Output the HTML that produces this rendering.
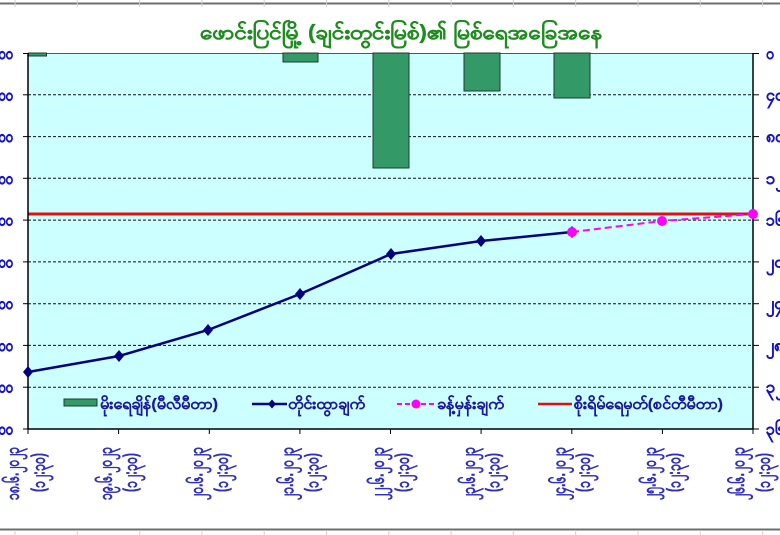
<!DOCTYPE html>
<html>
<head>
<meta charset="utf-8">
<style>
html,body{margin:0;padding:0;background:#fff;}
svg{display:block;}
text{font-family:"Liberation Sans","DejaVu Sans",sans-serif;}
</style>
</head>
<body>
<svg width="780" height="535" viewBox="0 0 780 535" xmlns="http://www.w3.org/2000/svg">
  <rect x="0" y="0" width="780" height="535" fill="#ffffff"/>
  <!-- spreadsheet lines -->
  <line x1="0" y1="3.5" x2="780" y2="3.5" stroke="#6e6e6e" stroke-width="2"/>
  <line x1="0" y1="529.5" x2="780" y2="529.5" stroke="#6e6e6e" stroke-width="2"/>
  <g stroke="#cfcfcf" stroke-width="1">
    <line x1="15" y1="0" x2="15" y2="7"/><line x1="77.3" y1="0" x2="77.3" y2="7"/><line x1="139.6" y1="0" x2="139.6" y2="7"/>
    <line x1="201.9" y1="0" x2="201.9" y2="7"/><line x1="264.2" y1="0" x2="264.2" y2="7"/><line x1="326.5" y1="0" x2="326.5" y2="7"/>
    <line x1="388.8" y1="0" x2="388.8" y2="7"/><line x1="451.1" y1="0" x2="451.1" y2="7"/><line x1="513.4" y1="0" x2="513.4" y2="7"/>
    <line x1="575.7" y1="0" x2="575.7" y2="7"/><line x1="638" y1="0" x2="638" y2="7"/><line x1="700.3" y1="0" x2="700.3" y2="7"/>
    <line x1="762.6" y1="0" x2="762.6" y2="7"/>
    <line x1="15" y1="530" x2="15" y2="535"/><line x1="77.3" y1="530" x2="77.3" y2="535"/><line x1="139.6" y1="530" x2="139.6" y2="535"/>
    <line x1="201.9" y1="530" x2="201.9" y2="535"/><line x1="264.2" y1="530" x2="264.2" y2="535"/><line x1="326.5" y1="530" x2="326.5" y2="535"/>
    <line x1="388.8" y1="530" x2="388.8" y2="535"/><line x1="451.1" y1="530" x2="451.1" y2="535"/><line x1="513.4" y1="530" x2="513.4" y2="535"/>
    <line x1="575.7" y1="530" x2="575.7" y2="535"/><line x1="638" y1="530" x2="638" y2="535"/><line x1="700.3" y1="530" x2="700.3" y2="535"/>
    <line x1="762.6" y1="530" x2="762.6" y2="535"/>
  </g>

  <!-- title -->
  <text x="200" y="39" font-size="20" font-weight="bold" fill="#1e8c1e" stroke="#1e8c1e" stroke-width="0.3" textLength="402" lengthAdjust="spacingAndGlyphs">ဖောင်းပြင်မြို့ (ချင်းတွင်းမြစ်)၏ မြစ်ရေအခြေအနေ</text>

  <!-- plot area -->
  <rect x="28" y="53" width="725" height="376" fill="#ccffff"/>
  <line x1="28" y1="53.5" x2="753" y2="53.5" stroke="#555" stroke-width="1"/>
  <g stroke="#111" stroke-width="1" stroke-dasharray="3,2">
    <line x1="28" y1="94.8" x2="753" y2="94.8"/>
    <line x1="28" y1="136.6" x2="753" y2="136.6"/>
    <line x1="28" y1="178.3" x2="753" y2="178.3"/>
    <line x1="28" y1="220.1" x2="753" y2="220.1"/>
    <line x1="28" y1="261.9" x2="753" y2="261.9"/>
    <line x1="28" y1="303.7" x2="753" y2="303.7"/>
    <line x1="28" y1="345.4" x2="753" y2="345.4"/>
    <line x1="28" y1="387.2" x2="753" y2="387.2"/>
  </g>

  <!-- bars -->
  <g fill="#339966" stroke="#1d3d2b" stroke-width="1">
    <rect x="28.5" y="53" width="18" height="3"/>
    <rect x="283" y="53" width="35" height="9"/>
    <rect x="373" y="53" width="36" height="115"/>
    <rect x="464" y="53" width="36" height="38"/>
    <rect x="554" y="53" width="36" height="45"/>
  </g>

  <!-- red danger line -->
  <line x1="28" y1="214" x2="753" y2="214" stroke="#e01010" stroke-width="3"/>

  <!-- axes -->
  <g stroke="#000" stroke-width="1.5">
    <line x1="28" y1="53" x2="28" y2="429"/>
    <line x1="753" y1="53" x2="753" y2="429"/>
    <line x1="28" y1="429" x2="753" y2="429"/>
  </g>
  <g stroke="#000" stroke-width="1">
    <line x1="23" y1="53.5" x2="28" y2="53.5"/><line x1="23" y1="94.8" x2="28" y2="94.8"/>
    <line x1="23" y1="136.6" x2="28" y2="136.6"/><line x1="23" y1="178.3" x2="28" y2="178.3"/>
    <line x1="23" y1="220.1" x2="28" y2="220.1"/><line x1="23" y1="261.9" x2="28" y2="261.9"/>
    <line x1="23" y1="303.7" x2="28" y2="303.7"/><line x1="23" y1="345.4" x2="28" y2="345.4"/>
    <line x1="23" y1="387.2" x2="28" y2="387.2"/><line x1="23" y1="429" x2="28" y2="429"/>
    <line x1="753" y1="53.5" x2="759" y2="53.5"/><line x1="753" y1="94.8" x2="759" y2="94.8"/>
    <line x1="753" y1="136.6" x2="759" y2="136.6"/><line x1="753" y1="178.3" x2="759" y2="178.3"/>
    <line x1="753" y1="220.1" x2="759" y2="220.1"/><line x1="753" y1="261.9" x2="759" y2="261.9"/>
    <line x1="753" y1="303.7" x2="759" y2="303.7"/><line x1="753" y1="345.4" x2="759" y2="345.4"/>
    <line x1="753" y1="387.2" x2="759" y2="387.2"/><line x1="753" y1="429" x2="759" y2="429"/>
    <line x1="28" y1="429" x2="28" y2="434"/><line x1="118.6" y1="429" x2="118.6" y2="434"/>
    <line x1="209.3" y1="429" x2="209.3" y2="434"/><line x1="299.9" y1="429" x2="299.9" y2="434"/>
    <line x1="390.5" y1="429" x2="390.5" y2="434"/><line x1="481.1" y1="429" x2="481.1" y2="434"/>
    <line x1="571.8" y1="429" x2="571.8" y2="434"/><line x1="662.4" y1="429" x2="662.4" y2="434"/>
    <line x1="753" y1="429" x2="753" y2="434"/>
  </g>

  <!-- measured line -->
  <polyline points="28,372 119,356 208,330 300,294 391,254 481,241 572,232" fill="none" stroke="#000080" stroke-width="2.5"/>
  <!-- forecast line -->
  <polyline points="572,232 662,221 753,214" fill="none" stroke="#ff00ff" stroke-width="2" stroke-dasharray="7,4"/>
  <g fill="#000080">
    <polygon points="28,366 33,372 28,378 23,372"/>
    <polygon points="119,350 124,356 119,362 114,356"/>
    <polygon points="208,324 213,330 208,336 203,330"/>
    <polygon points="300,288 305,294 300,300 295,294"/>
    <polygon points="391,248 396,254 391,260 386,254"/>
    <polygon points="481,235 486,241 481,247 476,241"/>
    <polygon points="572,226 577,232 572,238 567,232"/>
  </g>
  <g fill="#ff00ff">
    <circle cx="572" cy="232" r="5"/>
    <circle cx="662" cy="221" r="5"/>
    <circle cx="753" cy="214" r="5"/>
  </g>

  <!-- legend -->
  <rect x="64" y="399" width="33" height="7" fill="#339966" stroke="#1d3d2b" stroke-width="1"/>
  <g font-size="15" font-weight="bold" fill="#1a1a9a" stroke="#1a1a9a" stroke-width="0.25">
    <text x="100" y="409" textLength="118" lengthAdjust="spacingAndGlyphs">မိုးရေချိန်(မီလီမီတာ)</text>
    <text x="288" y="409" textLength="77" lengthAdjust="spacingAndGlyphs">တိုင်းထွာချက်</text>
    <text x="437" y="409" textLength="67" lengthAdjust="spacingAndGlyphs">ခန့်မှန်းချက်</text>
    <text x="574" y="409" textLength="149" lengthAdjust="spacingAndGlyphs">စိုးရိမ်ရေမှတ်(စင်တီမီတာ)</text>
  </g>
  <line x1="252" y1="404" x2="287" y2="404" stroke="#000080" stroke-width="2.5"/>
  <polygon points="272,399.5 276,404 272,408.5 268,404" fill="#000080"/>
  <line x1="397" y1="404" x2="434" y2="404" stroke="#ff00ff" stroke-width="2" stroke-dasharray="5,3"/>
  <circle cx="416" cy="404" r="4.5" fill="#ff00ff"/>
  <line x1="538" y1="404" x2="572" y2="404" stroke="#e01010" stroke-width="2.5"/>

  <!-- left axis labels (clipped at left edge) -->
  <g font-size="17" font-weight="bold" fill="#1515c8" stroke="#1515c8" stroke-width="0.6" text-anchor="end" dominant-baseline="central">
    <text x="13" y="53.5" textLength="22" lengthAdjust="spacingAndGlyphs">၁၀၀</text>
    <text x="13" y="94.8" textLength="22" lengthAdjust="spacingAndGlyphs">၁၀၀</text>
    <text x="13" y="136.6" textLength="22" lengthAdjust="spacingAndGlyphs">၁၀၀</text>
    <text x="13" y="178.3" textLength="22" lengthAdjust="spacingAndGlyphs">၁၀၀</text>
    <text x="13" y="220.1" textLength="22" lengthAdjust="spacingAndGlyphs">၁၀၀</text>
    <text x="13" y="261.9" textLength="22" lengthAdjust="spacingAndGlyphs">၁၀၀</text>
    <text x="13" y="303.7" textLength="22" lengthAdjust="spacingAndGlyphs">၁၀၀</text>
    <text x="13" y="345.4" textLength="22" lengthAdjust="spacingAndGlyphs">၁၀၀</text>
    <text x="13" y="387.2" textLength="22" lengthAdjust="spacingAndGlyphs">၁၀၀</text>
    <text x="13" y="429" textLength="22" lengthAdjust="spacingAndGlyphs">၁၀၀</text>
  </g>

  <!-- right axis labels -->
  <g font-size="17" font-weight="bold" fill="#1515c8" stroke="#1515c8" stroke-width="0.4" dominant-baseline="central">
    <text x="766" y="53.5" textLength="8" lengthAdjust="spacingAndGlyphs">၀</text>
    <text x="766" y="94.8" textLength="18" lengthAdjust="spacingAndGlyphs">၄၀</text>
    <text x="766" y="136.6" textLength="18" lengthAdjust="spacingAndGlyphs">၈၀</text>
    <text x="766" y="178.3" textLength="27" lengthAdjust="spacingAndGlyphs">၁၂၀</text>
    <text x="766" y="220.1" textLength="27" lengthAdjust="spacingAndGlyphs">၁၆၀</text>
    <text x="766" y="261.9" textLength="27" lengthAdjust="spacingAndGlyphs">၂၀၀</text>
    <text x="766" y="303.7" textLength="27" lengthAdjust="spacingAndGlyphs">၂၄၀</text>
    <text x="766" y="345.4" textLength="27" lengthAdjust="spacingAndGlyphs">၂၈၀</text>
    <text x="766" y="387.2" textLength="27" lengthAdjust="spacingAndGlyphs">၃၂၀</text>
    <text x="766" y="429" textLength="27" lengthAdjust="spacingAndGlyphs">၃၆၀</text>
  </g>

  <!-- category labels (rotated, reading bottom to top) -->
  <g font-size="19" font-weight="bold" fill="#3030c0" stroke="#3030c0" stroke-width="0.4" dominant-baseline="central">
    <text transform="translate(13,500) rotate(-90)" textLength="53" lengthAdjust="spacingAndGlyphs">၁၈.၆.၂၀၂၃</text>
    <text transform="translate(39,492) rotate(-90)" textLength="39" lengthAdjust="spacingAndGlyphs">(၁၂:၃၀)</text>
    <text transform="translate(106,500) rotate(-90)" textLength="53" lengthAdjust="spacingAndGlyphs">၁၉.၆.၂၀၂၃</text>
    <text transform="translate(131,492) rotate(-90)" textLength="39" lengthAdjust="spacingAndGlyphs">(၁၂:၃၀)</text>
    <text transform="translate(197,500) rotate(-90)" textLength="53" lengthAdjust="spacingAndGlyphs">၂၀.၆.၂၀၂၃</text>
    <text transform="translate(222,492) rotate(-90)" textLength="39" lengthAdjust="spacingAndGlyphs">(၁၂:၃၀)</text>
    <text transform="translate(287.5,500) rotate(-90)" textLength="53" lengthAdjust="spacingAndGlyphs">၂၁.၆.၂၀၂၃</text>
    <text transform="translate(312.5,492) rotate(-90)" textLength="39" lengthAdjust="spacingAndGlyphs">(၁၂:၃၀)</text>
    <text transform="translate(378,500) rotate(-90)" textLength="53" lengthAdjust="spacingAndGlyphs">၂၂.၆.၂၀၂၃</text>
    <text transform="translate(403,492) rotate(-90)" textLength="39" lengthAdjust="spacingAndGlyphs">(၁၂:၃၀)</text>
    <text transform="translate(469,500) rotate(-90)" textLength="53" lengthAdjust="spacingAndGlyphs">၂၃.၆.၂၀၂၃</text>
    <text transform="translate(493.5,492) rotate(-90)" textLength="39" lengthAdjust="spacingAndGlyphs">(၁၂:၃၀)</text>
    <text transform="translate(559.5,500) rotate(-90)" textLength="53" lengthAdjust="spacingAndGlyphs">၂၄.၆.၂၀၂၃</text>
    <text transform="translate(584,492) rotate(-90)" textLength="39" lengthAdjust="spacingAndGlyphs">(၁၂:၃၀)</text>
    <text transform="translate(650,500) rotate(-90)" textLength="53" lengthAdjust="spacingAndGlyphs">၂၅.၆.၂၀၂၃</text>
    <text transform="translate(674.5,492) rotate(-90)" textLength="39" lengthAdjust="spacingAndGlyphs">(၁၂:၃၀)</text>
    <text transform="translate(738.5,500) rotate(-90)" textLength="53" lengthAdjust="spacingAndGlyphs">၂၆.၆.၂၀၂၃</text>
    <text transform="translate(764,492) rotate(-90)" textLength="39" lengthAdjust="spacingAndGlyphs">(၁၂:၃၀)</text>
  </g>
</svg>
</body>
</html>
